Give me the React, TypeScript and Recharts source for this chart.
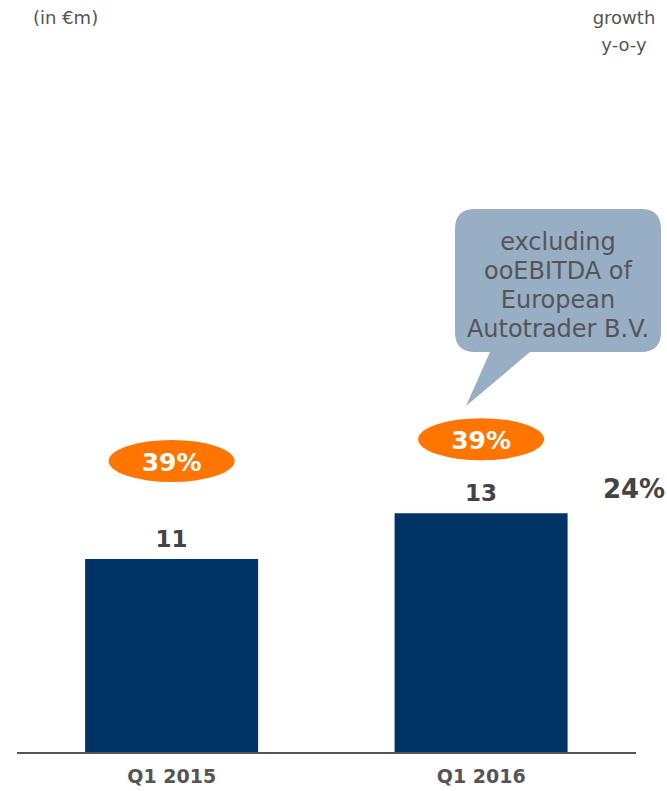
import React from "react";
import { BarChart, Bar, XAxis, YAxis, LabelList, Customized } from "recharts";

const categories = ["Q1 2015", "Q1 2016"];
const ebitda = [10.6, 13.1];
const margins = ["39%", "39%"];
const growthLabel = "24%";
const calloutLines = ["excluding", "ooEBITDA of", "European", "Autotrader B.V."];

const data = categories.map((c, i) => ({ name: c, value: ebitda[i], margin: margins[i] }));

const FONT = "'DejaVu Sans', Verdana, sans-serif";
const ellipseLift = [98, 74];

const MarginEllipse = (props: any) => {
  const { x, y, width, index, value } = props;
  const cx = x + width / 2;
  const cy = y - ellipseLift[index];
  return (
    <g>
      <ellipse cx={cx} cy={cy} rx={63} ry={21} fill="#ff7500" />
      <text x={cx} y={cy + 1} textAnchor="middle" dominantBaseline="central" fill="#fff" fontWeight="bold" fontSize={25} fontFamily={FONT}>
        {value}
      </text>
    </g>
  );
};

const Callout = () => (
  <g>
    <path
      d="M475,209 H641 Q661,209 661,229 V332 Q661,352 641,352 H530 L466,406 L490,352 H475 Q455,352 455,332 V229 Q455,209 475,209 Z"
      fill="#97aec5"
    />
    {calloutLines.map((l, i) => (
      <text key={i} x={558} y={250 + i * 29} textAnchor="middle" fill="#555" fontSize={24} fontFamily={FONT}>
        {l}
      </text>
    ))}
    <text x={634} y={498} textAnchor="middle" fill="#444" fontWeight="bold" fontSize={26} fontFamily={FONT}>
      {growthLabel}
    </text>
    <text x={33} y={24} fill="#555" fontSize={18} fontFamily={FONT}>(in €m)</text>
    <text x={624} y={24} textAnchor="middle" fill="#555" fontSize={18} fontFamily={FONT}>growth</text>
    <text x={624} y={51} textAnchor="middle" fill="#555" fontSize={18} fontFamily={FONT}>y-o-y</text>
  </g>
);

export default function App() {
  return (
    <div style={{ position: "absolute", left: 0, top: 0, width: 667, height: 791, background: "#fff" }}>
      <BarChart width={667} height={791} data={data} margin={{ top: 387, right: 31, bottom: 8, left: 17 }} barCategoryGap="22%">
        <XAxis
          dataKey="name"
          height={30}
          axisLine={{ stroke: "#555", strokeWidth: 2 }}
          tickLine={false}
          tickMargin={11}
          tick={{ fill: "#555", fontSize: 19, fontWeight: "bold", fontFamily: FONT }}
        />
        <YAxis hide domain={[0, 20]} />
        <Bar dataKey="value" fill="#003466" isAnimationActive={false}>
          <LabelList
            dataKey="value"
            position="top"
            offset={12}
            formatter={(v: any) => Math.round(Number(v))}
            style={{ fill: "#444", fontSize: 23, fontWeight: "bold", fontFamily: FONT }}
          />
          <LabelList dataKey="margin" content={MarginEllipse} />
        </Bar>
        <Customized component={Callout} />
      </BarChart>
    </div>
  );
}
